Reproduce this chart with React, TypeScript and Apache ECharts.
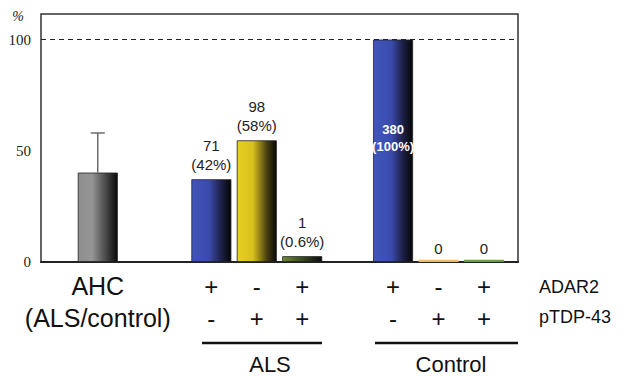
import React, { useEffect, useRef } from "react";
import * as echarts from "echarts";

// ---- data ----
const barKeys = ["AHC", "ALS +/-", "ALS -/+", "ALS +/+", "Control +/-", "Control -/+", "Control +/+"];
const barValues = [40.2, 37.2, 54.7, 2.6, 100, 1, 1];
const ahcErrorHigh = 58;
const adar2Row = ["", "+", "-", "+", "+", "-", "+"];
const ptdpRow = ["", "-", "+", "+", "-", "+", "+"];
const countLabels = ["", "71\n(42%)", "98\n(58%)", "1\n(0.6%)", "380\n(100%)", "0", "0"];
// slot layout of the category axis (gaps are blank spacer slots)
const slotLayout = [
  "gap", "gap", "AHC", "gap", "gap", "gap", "gap",
  "ALS +/-", "gap", "ALS -/+", "gap", "ALS +/+", "gap", "gap", "gap",
  "Control +/-", "gap", "Control -/+", "gap", "Control +/+", "gap",
];
const yTicks = [0, 50, 100];
const yMax = 111.5;

const SANS = "Liberation Sans, Arial, sans-serif";
const SERIF = "Liberation Serif, Times New Roman, DejaVu Serif, serif";

const grad = (stops: [number, string][]) => ({
  type: "linear",
  x: 0, y: 0, x2: 1, y2: 0,
  colorStops: stops.map(([offset, color]) => ({ offset, color })),
});

const barFills = [
  grad([[0, "#8e8e8e"], [0.35, "#959595"], [0.7, "#4a4a4a"], [1, "#0a0a0a"]]),
  grad([[0, "#4154b8"], [0.45, "#3a4aaa"], [0.75, "#1d2048"], [1, "#060606"]]),
  grad([[0, "#ead024"], [0.4, "#d8c11e"], [0.75, "#4c4210"], [1, "#080808"]]),
  grad([[0, "#6f8c3a"], [0.5, "#3c4a20"], [1, "#0a0a0a"]]),
  grad([[0, "#4157bc"], [0.45, "#3a4cae"], [0.75, "#1d2048"], [1, "#060606"]]),
  "#f2b864",
  "#6c9c40",
];

export default function App() {
  const ref = useRef<HTMLDivElement>(null);
  useEffect(() => {
    if (!ref.current) return;
    const chart = echarts.init(ref.current, undefined, { renderer: "svg" });
    let gapId = 0;
    const categories = slotLayout.map((s) => (s === "gap" ? `_gap${gapId++}` : s));

    const barData = barKeys.map((k, i) => {
      const isInside = i === 4;
      return {
        value: [k, barValues[i]],
        itemStyle: {
          color: barFills[i],
          borderColor: i >= 5 ? "transparent" : "#222",
          borderWidth: i >= 5 ? 0 : 0.8,
        },
        label: {
          show: countLabels[i] !== "",
          formatter: countLabels[i],
          position: isInside ? "inside" : "top",
          offset: isInside ? [0, -13] : [0, 0],
          distance: i >= 5 ? 2 : 5,
          color: isInside ? "#ffffff" : "#222",
          fontWeight: isInside ? "bold" : "normal",
          fontFamily: SANS,
          fontSize: isInside ? 13 : 15,
          lineHeight: isInside ? 17 : 19,
          align: "center",
        },
      };
    });

    chart.setOption({
      animation: false,
      backgroundColor: "#ffffff",
      grid: {
        left: 41, right: 112, top: 14, bottom: 114,
        show: true, borderColor: "#333", borderWidth: 1.5,
        containLabel: false, outerBoundsMode: "none",
      },
      xAxis: {
        type: "category",
        data: categories,
        axisLine: { show: true, lineStyle: { color: "#222", width: 2 } },
        axisTick: { show: false },
        splitLine: { show: false },
        axisLabel: {
          interval: 0,
          margin: 8,
          formatter: (val: string) => {
            const idx = barKeys.indexOf(val);
            if (idx === 0) return "{a|AHC}\n{a|(ALS/control)}";
            if (idx > 0) return `{s|${adar2Row[idx]}}\n{s|${ptdpRow[idx]}}`;
            return "";
          },
          rich: {
            a: { fontFamily: SANS, fontSize: 25, lineHeight: 32, color: "#111" },
            s: { fontFamily: SANS, fontSize: 24, lineHeight: 32, color: "#111" },
          },
        },
      },
      yAxis: {
        type: "value",
        min: 0,
        max: yMax,
        interval: 50,
        axisLine: { show: false },
        axisTick: { show: false },
        splitLine: { show: false },
        axisLabel: {
          margin: 10,
          fontFamily: SERIF,
          fontSize: 15,
          color: "#222",
          formatter: (v: number) => (yTicks.includes(v) ? String(v) : ""),
        },
      },
      series: [
        {
          type: "bar",
          barWidth: 40,
          data: barData,
          markLine: {
            silent: true,
            symbol: "none",
            label: { show: false },
            lineStyle: { color: "#222", width: 1, type: [5, 4] },
            data: [{ yAxis: 100 }],
          },
        },
        {
          type: "custom",
          data: [[barKeys[0], barValues[0], ahcErrorHigh]],
          renderItem: (params: any, api: any) => {
            const base = api.coord([api.value(0), api.value(1)]);
            const top = api.coord([api.value(0), api.value(2)]);
            const cx = base[0];
            const style = { stroke: "#555", lineWidth: 1.3 };
            return {
              type: "group",
              children: [
                { type: "line", shape: { x1: cx, y1: base[1], x2: cx, y2: top[1] }, style },
                { type: "line", shape: { x1: cx - 7, y1: top[1], x2: cx + 7, y2: top[1] }, style },
              ],
            };
          },
          z: 5,
        },
      ],
      graphic: [
        { type: "text", x: 18, y: 16, style: { text: "%", fontFamily: SERIF, fontSize: 14, fontStyle: "italic", fill: "#222", textAlign: "center", textVerticalAlign: "middle" } },
        { type: "text", x: 539, y: 287, style: { text: "ADAR2", fontFamily: SANS, fontSize: 18, fill: "#111", textVerticalAlign: "middle" } },
        { type: "text", x: 539, y: 317, style: { text: "pTDP-43", fontFamily: SANS, fontSize: 18, fill: "#111", textVerticalAlign: "middle" } },
        { type: "line", shape: { x1: 202, y1: 343, x2: 322, y2: 343 }, style: { stroke: "#111", lineWidth: 2.5 } },
        { type: "line", shape: { x1: 375, y1: 343, x2: 518, y2: 343 }, style: { stroke: "#111", lineWidth: 2.5 } },
        { type: "text", x: 270, y: 364, style: { text: "ALS", fontFamily: SANS, fontSize: 22, fill: "#111", textAlign: "center", textVerticalAlign: "middle" } },
        { type: "text", x: 451, y: 364, style: { text: "Control", fontFamily: SANS, fontSize: 22, fill: "#111", textAlign: "center", textVerticalAlign: "middle" } },
      ],
    });
    return () => chart.dispose();
  }, []);
  return (
    <div
      ref={ref}
      style={{ position: "fixed", left: 0, top: 0, width: 630, height: 376, background: "#fff" }}
    />
  );
}
